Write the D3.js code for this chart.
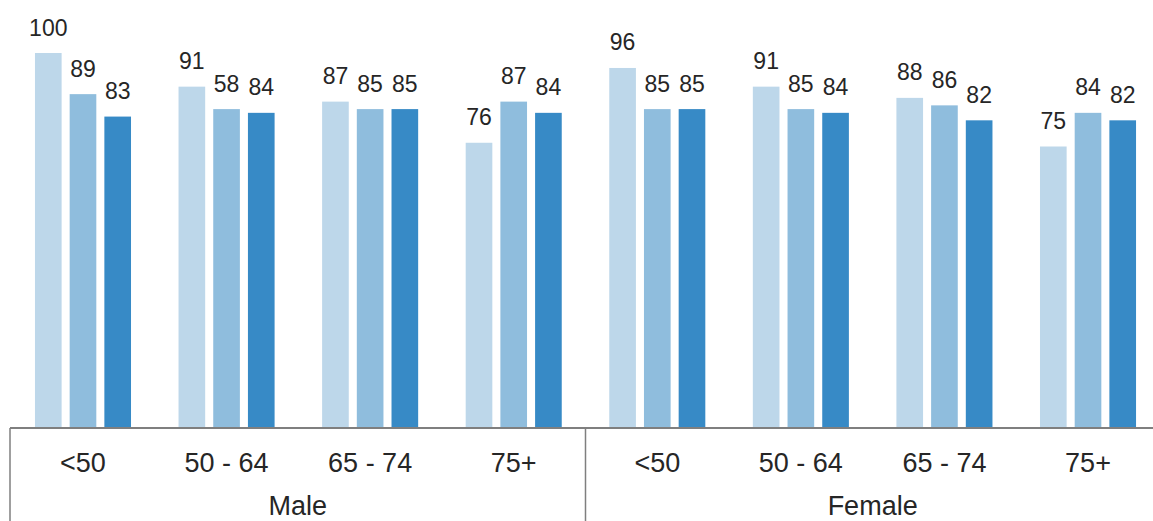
<!DOCTYPE html>
<html>
<head>
<meta charset="utf-8">
<script src="https://cdn.jsdelivr.net/npm/d3@7/dist/d3.min.js"></script>
<style>
  html, body { margin: 0; padding: 0; background: #fff; }
  svg { display: block; }
  text { font-family: "Liberation Sans", Arial, Helvetica, sans-serif; fill: #262626; }
</style>
</head>
<body>
<svg id="chart" width="1153" height="521"></svg>
<script>
// ---- data ----
const sexes = ["Male", "Female"];
const ageBands = ["<50", "50 - 64", "65 - 74", "75+"];
const seriesNames = ["Series 1", "Series 2", "Series 3"];
// bar heights (order: Male <50..75+, Female <50..75+)
const series1 = [100, 91, 87, 76, 96, 91, 88, 75];
const series2 = [89, 85, 85, 87, 85, 85, 86, 84];
const series3 = [83, 84, 85, 84, 85, 84, 82, 82];
// data labels as printed in the picture
const series1Labels = ["100", "91", "87", "76", "96", "91", "88", "75"];
const series2Labels = ["89", "58", "85", "87", "85", "85", "86", "84"];
const series3Labels = ["83", "84", "85", "84", "85", "84", "82", "82"];
const colors = ["#bdd7ea", "#8fbddd", "#378ac6"];

// ---- build ----
const cats = [];
sexes.forEach(s => ageBands.forEach(a => cats.push({ sex: s, age: a, key: s + "|" + a })));
const allSeries = [series1, series2, series3];
const allLabels = [series1Labels, series2Labels, series3Labels];
const rows = cats.map((c, i) => ({
  ...c,
  bars: seriesNames.map((n, j) => ({ name: n, si: j, value: allSeries[j][i], label: allLabels[j][i] }))
}));

const W = 1153, H = 521;
const axisY = 428;
const svg = d3.select("#chart");

const x0 = d3.scaleBand()
  .domain(cats.map(c => c.key))
  .range([11.2, 1159.8])
  .paddingInner(0.331)
  .paddingOuter(0.1655);
const x1 = d3.scaleBand()
  .domain(seriesNames)
  .range([0, x0.bandwidth()])
  .paddingInner(0.232);
const y = d3.scaleLinear().domain([0, 100]).range([427, 53]);
const color = d3.scaleOrdinal().domain(seriesNames).range(colors);

const g = svg.selectAll("g.grp").data(rows).join("g")
  .attr("class", "grp")
  .attr("transform", d => `translate(${x0(d.key)},0)`);

g.selectAll("rect").data(d => d.bars).join("rect")
  .attr("x", d => x1(d.name))
  .attr("width", x1.bandwidth())
  .attr("y", d => y(d.value))
  .attr("height", d => y(0) - y(d.value))
  .attr("fill", d => color(d.name));

g.selectAll("text.val").data(d => d.bars).join("text")
  .attr("class", "val")
  .attr("x", d => x1(d.name) + x1.bandwidth() / 2)
  .attr("y", d => y(d.value) - 17.5)
  .attr("text-anchor", "middle")
  .style("font-size", "23px")
  .text(d => d.label);

// ---- category axis (two levels) ----
const left = 10;
const mid = (x0(cats[3].key) + x0.bandwidth() + x0(cats[4].key)) / 2;
const right = x0.range()[1];

svg.append("line")
  .attr("x1", left).attr("x2", W)
  .attr("y1", axisY).attr("y2", axisY)
  .attr("stroke", "#555").attr("stroke-width", 1.5);
[left, mid].forEach(xv => {
  svg.append("line")
    .attr("x1", xv).attr("x2", xv)
    .attr("y1", axisY).attr("y2", H)
    .attr("stroke", "#7f7f7f").attr("stroke-width", 1.5);
});

svg.selectAll("text.age").data(rows).join("text")
  .attr("class", "age")
  .attr("x", d => x0(d.key) + x0.bandwidth() / 2)
  .attr("y", 472)
  .attr("text-anchor", "middle")
  .style("font-size", "27px")
  .text(d => d.age);

const sexSpan = [[left, mid], [mid, right]];
svg.selectAll("text.sex").data(sexes).join("text")
  .attr("class", "sex")
  .attr("x", (d, i) => (sexSpan[i][0] + sexSpan[i][1]) / 2)
  .attr("y", 515)
  .attr("text-anchor", "middle")
  .style("font-size", "27px")
  .text(d => d);
</script>
</body>
</html>
